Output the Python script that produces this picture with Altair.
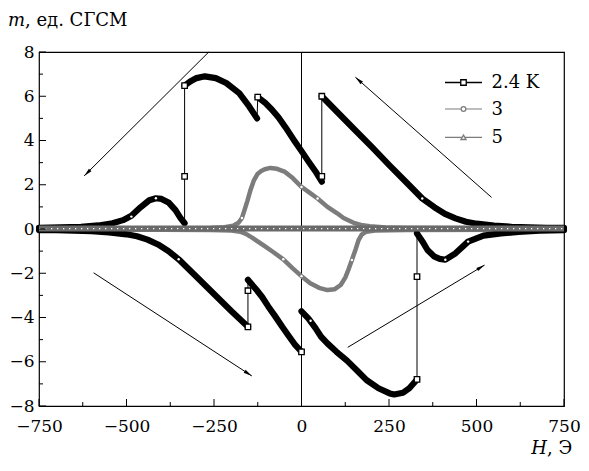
import math
import altair as alt
import pandas as pd

# ---------------- data ----------------
# 2.4 K, upper branch (field going from +750 down to -750): runs between flux jumps
upA_H = [750, 700, 650, 600, 550, 500, 470, 440, 410, 380, 345, 300, 250, 200, 150, 100, 58]
upA_m = [0.05, 0.05, 0.07, 0.10, 0.15, 0.24, 0.33, 0.48, 0.68, 0.98, 1.38, 2.10, 2.90, 3.72, 4.52, 5.32, 6.00]
upB_H = [58, 40, 20, 0, -20, -45, -66, -85, -105, -125]
upB_m = [2.14, 2.60, 3.05, 3.52, 3.98, 4.58, 5.05, 5.40, 5.72, 5.96]
upC_H = [-127, -150, -178, -215, -245, -276, -300, -318, -334]
upC_m = [5.00, 5.55, 6.14, 6.60, 6.82, 6.90, 6.82, 6.67, 6.48]
upD_H = [-334, -346, -360, -380, -400, -416, -435, -460, -486, -510, -540, -580, -630, -690, -750]
upD_m = [0.26, 0.50, 0.85, 1.20, 1.36, 1.39, 1.30, 0.98, 0.60, 0.40, 0.26, 0.16, 0.10, 0.07, 0.05]
# points measured inside the jumps of the upper branch (after run A, after run C)
upJ_H = [58, -334]
upJ_m = [2.38, 2.38]

# 2.4 K, lower branch (field going from -750 up to +750)
loE_H = [-750, -700, -650, -600, -550, -500, -470, -440, -410, -380, -351, -300, -250, -200, -153]
loE_m = [-0.05, -0.05, -0.07, -0.10, -0.15, -0.24, -0.33, -0.48, -0.70, -1.00, -1.37, -2.16, -2.94, -3.72, -4.42]
loF_H = [-153, -130, -113, -95, -75, -55, -38, -20, 0]
loF_m = [-2.30, -2.72, -3.06, -3.50, -3.95, -4.42, -4.80, -5.20, -5.55]
loG_H = [0, 20, 40, 56, 74, 100, 130, 160, 186, 220, 252, 265, 290, 308, 330]
loG_m = [-3.72, -4.05, -4.48, -4.87, -5.17, -5.55, -5.95, -6.42, -6.83, -7.20, -7.43, -7.48, -7.40, -7.20, -6.80]
loH_H = [330, 345, 360, 380, 395, 411, 440, 476, 520, 570, 620, 680, 750]
loH_m = [-0.20, -0.55, -0.95, -1.25, -1.35, -1.39, -1.10, -0.57, -0.30, -0.20, -0.13, -0.08, -0.05]
loJ_H = [-153, 330]
loJ_m = [-2.79, -2.15]

# open markers of the 2.4 K curve that show as white dots inside the band
dot24_H = [345, -416, -486, -351, 26, 411, 476]
dot24_m = [1.38, 1.39, 0.56, -1.37, -4.15, -1.39, -0.57]

# 3 K
up3_H = [750, 500, 300, 240, 195, 170, 149, 120, 102, 74, 46, 20, 0, -25, -47, -70, -89,
         -105, -115, -125, -136, -145, -155, -162, -170, -180, -195, -220, -260, -400, -750]
up3_m = [0.03, 0.03, 0.05, 0.07, 0.12, 0.18, 0.28, 0.50, 0.71, 1.00, 1.38, 1.68, 1.90, 2.30, 2.58, 2.72, 2.76,
         2.70, 2.62, 2.50, 2.20, 1.80, 1.25, 0.90, 0.50, 0.28, 0.15, 0.08, 0.05, 0.03, 0.03]
lo3_H = [-750, -400, -260, -200, -175, -159, -140, -120, -103, -80, -52, -25, 0, 25, 50, 74, 95,
         112, 125, 135, 144, 155, 163, 172, 185, 210, 300, 750]
lo3_m = [-0.03, -0.03, -0.05, -0.07, -0.12, -0.22, -0.40, -0.62, -0.80, -1.05, -1.37, -1.78, -2.13, -2.45, -2.66, -2.76, -2.72,
         -2.53, -2.20, -1.80, -1.40, -0.90, -0.50, -0.25, -0.12, -0.07, -0.05, -0.03]
dot3_H = [46, 0, -170, -52, 0, 144]
dot3_m = [1.38, 1.90, 0.50, -1.37, -2.13, -1.40]

# 5 K (flat at zero)
h5_H = [-750, -375, 0, 375, 750]
h5_m = [0.02, 0.02, 0.02, 0.02, 0.02]

# sweep-direction arrows: tail -> head
arr_H0 = [-265, 543, -594, 132]
arr_m0 = [8.0, 1.43, -1.98, -5.35]
arr_H1 = [-621, 154, -142, 523]
arr_m1 = [2.40, 6.86, -6.64, -1.63]

series_names = ["2.4 K", "3", "5"]
x_major = [-750, -500, -250, 0, 250, 500, 750]
x_minor = [-625, -375, -125, 125, 375, 625]
y_major = [-8, -6, -4, -2, 0, 2, 4, 6, 8]
y_minor = [-7, -5, -3, -1, 1, 3, 5, 7]

# ---------------- styling ----------------
W, HT = 525, 354
FONT = "DejaVu Serif"
FS = 17
GRAY = "#7c7c7c"
xs = alt.Scale(domain=[-750, 750], nice=False, zero=False)
ys = alt.Scale(domain=[-8, 8], nice=False, zero=False)
xa = alt.Axis(values=x_major, title=None, labelPadding=12, labelFlush=False, labelOverlap=False)
ya = alt.Axis(values=y_major, title=None, labelPadding=5, labelOverlap=False)


def X(f="H"):
    return alt.X(f"{f}:Q", scale=xs, axis=xa)


def Y(f="m"):
    return alt.Y(f"{f}:Q", scale=ys, axis=ya)


# runs (thick bands)
runs = []
for name, hh, mm in [("A", upA_H, upA_m), ("B", upB_H, upB_m), ("C", upC_H, upC_m), ("D", upD_H, upD_m),
                     ("E", loE_H, loE_m), ("F", loF_H, loF_m), ("G", loG_H, loG_m), ("H", loH_H, loH_m)]:
    runs.append(pd.DataFrame({"H": hh, "m": mm, "seg": name, "ord": range(len(hh))}))
runs_df = pd.concat(runs, ignore_index=True)

# full sweep sequences (thin connecting line incl. jump points)
up_seq_H = upA_H + [upJ_H[0]] + upB_H + upC_H + [upJ_H[1]] + upD_H
up_seq_m = upA_m + [upJ_m[0]] + upB_m + upC_m + [upJ_m[1]] + upD_m
lo_seq_H = loE_H + [loJ_H[0]] + loF_H + loG_H + [loJ_H[1]] + loH_H
lo_seq_m = loE_m + [loJ_m[0]] + loF_m + loG_m + [loJ_m[1]] + loH_m
seq_df = pd.concat([
    pd.DataFrame({"H": up_seq_H, "m": up_seq_m, "br": "up", "ord": range(len(up_seq_H))}),
    pd.DataFrame({"H": lo_seq_H, "m": lo_seq_m, "br": "lo", "ord": range(len(lo_seq_H))}),
], ignore_index=True)

# visible open squares around the jumps
mk_H = [upA_H[-1], upJ_H[0], upB_H[-1], upC_H[-1], upJ_H[1], loE_H[-1], loJ_H[0], loF_H[-1], loG_H[-1], loJ_H[1]]
mk_m = [upA_m[-1], upJ_m[0], upB_m[-1], upC_m[-1], upJ_m[1], loE_m[-1], loJ_m[0], loF_m[-1], loG_m[-1], loJ_m[1]]
mk_df = pd.DataFrame({"H": mk_H, "m": mk_m})

df3 = pd.concat([
    pd.DataFrame({"H": up3_H, "m": up3_m, "br": "up", "ord": range(len(up3_H))}),
    pd.DataFrame({"H": lo3_H, "m": lo3_m, "br": "lo", "ord": range(len(lo3_H))}),
], ignore_index=True)
df5 = pd.DataFrame({"H": h5_H, "m": h5_m})
dots_df = pd.DataFrame({"H": dot24_H + dot3_H, "m": dot24_m + dot3_m})

# arrows
pxH, pxm = W / 1500.0, HT / 16.0
angles = []
for a in range(len(arr_H0)):
    dx = (arr_H1[a] - arr_H0[a]) * pxH
    dy = (arr_m1[a] - arr_m0[a]) * pxm
    angles.append(math.degrees(math.atan2(dx, dy)) % 360)
arr_df = pd.DataFrame({"H0": arr_H0, "m0": arr_m0, "H1": arr_H1, "m1": arr_m1, "ang": angles})

base = alt.Chart(pd.DataFrame({"d": [0]}))

zero_line = base.mark_rule(color="black", strokeWidth=1).encode(
    x=alt.X("z:Q", scale=xs, axis=xa)).transform_calculate(z="0")

arrow_lines = alt.Chart(arr_df).mark_rule(color="black", strokeWidth=1).encode(
    x=X("H0"), y=Y("m0"), x2="H1:Q", y2="m1:Q")
arrow_heads = alt.Chart(arr_df).mark_point(
    shape="M0,0L-0.42,2L0.42,2Z", filled=True, color="black", size=72, opacity=1
).encode(x=X("H1"), y=Y("m1"), angle=alt.Angle("ang:Q", scale=None))

line3 = alt.Chart(df3).mark_line(color=GRAY, strokeWidth=4.5, strokeJoin="round", strokeCap="round").encode(
    x=X(), y=Y(), detail="br:N", order="ord:Q")

thin24 = alt.Chart(seq_df).mark_line(color="black", strokeWidth=1).encode(
    x=X(), y=Y(), detail="br:N", order="ord:Q")
thick24 = alt.Chart(runs_df).mark_line(color="black", strokeWidth=6.2, strokeJoin="round", strokeCap="round").encode(
    x=X(), y=Y(), detail="seg:N", order="ord:Q")

white_dots = alt.Chart(dots_df).mark_point(shape="circle", filled=True, color="white", size=6, opacity=1).encode(
    x=X(), y=Y())

line5 = alt.Chart(df5).mark_line(color="#6a6a6a", strokeWidth=6).encode(x=X(), y=Y())
dots5 = alt.Chart(df5).mark_line(color="white", strokeWidth=1.3, strokeDash=[1.3, 4.7]).encode(x=X(), y=Y())

markers = alt.Chart(mk_df).mark_point(shape="square", filled=True, fill="white", stroke="black",
                                      strokeWidth=1.3, size=30, opacity=1).encode(x=X(), y=Y())

# inward ticks
tx_major = alt.Chart(pd.DataFrame({"t": x_major})).mark_rule(color="black").encode(
    x=X("t"), y=alt.value(HT), y2=alt.value(HT - 7))
tx_minor = alt.Chart(pd.DataFrame({"t": x_minor})).mark_rule(color="black").encode(
    x=X("t"), y=alt.value(HT), y2=alt.value(HT - 4))
ty_major = alt.Chart(pd.DataFrame({"t": y_major})).mark_rule(color="black").encode(
    y=Y("t"), x=alt.value(0), x2=alt.value(7))
ty_minor = alt.Chart(pd.DataFrame({"t": y_minor})).mark_rule(color="black").encode(
    y=Y("t"), x=alt.value(0), x2=alt.value(4))

# legend (drawn by hand)
leg_rows = [30.5, 57.0, 85.3]
leg_colors = ["black", GRAY, GRAY]
leg_shapes = ["square", "circle", "triangle-up"]
leg_sizes = [30, 22, 26]
leg_width = [1.5, 1.2, 1.2]
legend_layers = []
for i, name in enumerate(series_names):
    yv = leg_rows[i]
    legend_layers.append(base.mark_rule(color=leg_colors[i], strokeWidth=leg_width[i]).encode(
        x=alt.value(406), x2=alt.value(443), y=alt.value(yv)))
    legend_layers.append(base.mark_point(shape=leg_shapes[i], filled=True, fill="white", stroke=leg_colors[i],
                                         strokeWidth=1.3, size=leg_sizes[i], opacity=1).encode(
        x=alt.value(424.5), y=alt.value(yv)))
    legend_layers.append(base.mark_text(text=name, font=FONT, fontSize=18, align="left", baseline="middle",
                                        color="black").encode(x=alt.value(452.5), y=alt.value(yv + 0.5)))

# axis titles
t_m = base.mark_text(text="m", font=FONT, fontSize=18, fontStyle="italic", align="right",
                     baseline="alphabetic", color="black").encode(x=alt.value(-14), y=alt.value(-26.5))
t_m2 = base.mark_text(text=", ед. СГСМ", font=FONT, fontSize=18, align="left",
                      baseline="alphabetic", color="black").encode(x=alt.value(-14), y=alt.value(-26.5))
t_h = base.mark_text(text="H", font=FONT, fontSize=18, fontStyle="italic", align="right",
                     baseline="alphabetic", color="black").encode(x=alt.value(508), y=alt.value(402))
t_h2 = base.mark_text(text=", Э", font=FONT, fontSize=18, align="left",
                      baseline="alphabetic", color="black").encode(x=alt.value(508), y=alt.value(402))

chart = alt.layer(
    zero_line, arrow_lines, arrow_heads, line3, thin24, thick24, white_dots, line5, dots5, markers,
    tx_major, tx_minor, ty_major, ty_minor, *legend_layers, t_m, t_m2, t_h, t_h2
).properties(
    width=W, height=HT,
    autosize=alt.AutoSizeParams(type="none"),
    padding={"left": 31, "top": 44, "right": 17, "bottom": 57},
).configure_view(
    stroke="black", strokeWidth=1.2
).configure_axis(
    grid=False, ticks=False, domain=False, labelFont=FONT, labelFontSize=FS, labelColor="black"
)

chart.save("out.html", embed_options={"renderer": "svg", "actions": False})
